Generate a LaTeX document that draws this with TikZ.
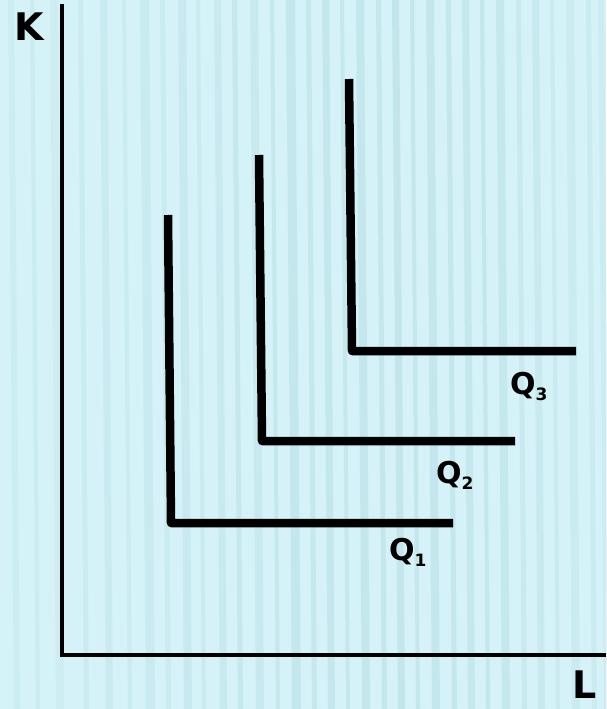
\documentclass[tikz,border=0pt]{standalone}
\usepackage{fontspec}
\setmainfont{DejaVu Sans}
\definecolor{bgc}{HTML}{D4F2F7}
\definecolor{stripe}{HTML}{B4DDE3}
\begin{document}
\begin{tikzpicture}[x=1pt,y=-1pt,
  axis/.style={line width=3.5pt,black},
  iso/.style={line width=8.5pt,black,line join=round},
  lbl/.style={inner sep=0pt,anchor=base west,font=\bfseries\fontsize{30}{30}\selectfont},
  axl/.style={inner sep=0pt,anchor=base west,font=\bfseries\fontsize{38}{38}\selectfont}]
\fill[bgc] (0,0) rectangle (606,709);
\useasboundingbox (0,0) rectangle (606,709);
% background stripes
\foreach \x/\w/\o in {8/6/0.25,30/4/0.3,50/8/0.2,78/5/0.3,100/7/0.35,122/4/0.3,140/9/0.35,160/5/0.3,178/8/0.4,196/4/0.35,214/7/0.4,232/5/0.45,250/8/0.4,270/4/0.45,286/9/0.5,306/5/0.45,322/7/0.5,340/4/0.45,356/8/0.5,376/5/0.5,392/7/0.55,410/4/0.5,426/8/0.5,446/5/0.5,462/7/0.45,480/4/0.5,496/8/0.45,516/5/0.4,532/7/0.4,550/4/0.35,566/8/0.3,586/5/0.3,598/6/0.25}
  \fill[stripe,opacity=\o] (\x,0) -- (\x+\w,0) -- (\x+\w+6,709) -- (\x+6,709) -- cycle;
% axes
\coordinate (ktop) at (62,4);
\coordinate (origin) at (62,655);
\coordinate (lend) at (606,655);
\draw[axis,line join=miter] (ktop) -- (origin) -- (lend);
\node[axl] (K) at (14,41) {K};
\node[axl] (L) at (572,698) {L};
% isoquants
\coordinate (a1) at (168,215); \coordinate (b1) at (171,523); \coordinate (c1) at (453,523);
\coordinate (a2) at (259,155); \coordinate (b2) at (262,441); \coordinate (c2) at (515,441);
\coordinate (a3) at (349,79);  \coordinate (b3) at (352,351); \coordinate (c3) at (576,351);
\draw[iso] (a1) -- (b1) -- (c1);
\draw[iso] (a2) -- (b2) -- (c2);
\draw[iso] (a3) -- (b3) -- (c3);
\node[lbl] (q1) at (389,560) {Q\raisebox{-6pt}{\fontsize{17}{17}\selectfont 1}};
\node[lbl] (q2) at (436,483) {Q\raisebox{-6pt}{\fontsize{17}{17}\selectfont 2}};
\node[lbl] (q3) at (510,394) {Q\raisebox{-6pt}{\fontsize{17}{17}\selectfont 3}};
\end{tikzpicture}
\end{document}
